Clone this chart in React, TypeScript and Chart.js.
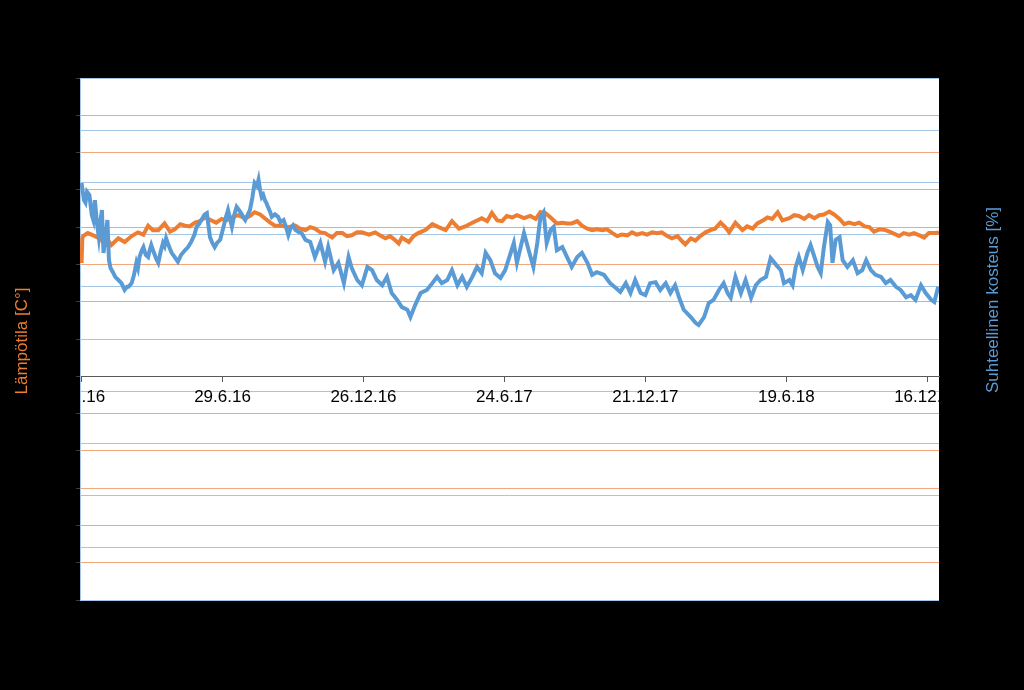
import React, { useEffect, useRef } from "react";
import { Chart, registerables } from "chart.js";

Chart.register(...registerables);

// X axis: days counted from 1.1.16
const tickDays = [0, 180, 360, 540, 720, 900, 1080];
const tickLabels = ["1.1.16", "29.6.16", "26.12.16", "24.6.17", "21.12.17", "19.6.18", "16.12.18"];
const dayMin = -2;
const dayMax = 1095;

const leftTitle = "Lämpötila [C°]";
const rightTitle = "Suhteellinen kosteus [%]";

// Temperature [°C]: [day, value]
const temperature: [number, number][] = [
  [0, 15.2], [1, 18.5], [2, 18.8], [8, 19.2], [15, 18.9], [21, 18.6], [28, 18.0], [34, 18.2], [38, 17.6], [47, 18.5],
  [55, 18.0], [64, 18.8], [72, 19.3], [79, 19.0], [85, 20.2], [91, 19.6], [98, 19.6], [106, 20.5], [113, 19.4], [119, 19.7],
  [126, 20.4], [132, 20.2], [138, 20.1], [145, 20.6], [151, 20.8], [158, 21.3], [166, 20.9], [172, 20.6], [179, 21.1], [185, 20.9],
  [192, 21.3], [200, 21.6], [209, 21.2], [215, 21.5], [221, 22.0], [228, 21.7], [234, 21.2], [241, 20.6], [247, 20.2], [255, 20.2],
  [264, 20.0], [273, 20.2], [279, 19.8], [286, 19.6], [292, 20.0], [298, 19.8], [305, 19.3], [311, 19.2], [320, 18.6], [326, 19.2],
  [333, 19.2], [339, 18.8], [345, 18.9], [352, 19.3], [358, 19.3], [367, 19.0], [375, 19.3], [381, 18.9], [388, 18.5], [394, 18.8],
  [401, 18.2], [405, 17.8], [409, 18.6], [418, 18.0], [424, 18.8], [430, 19.2], [439, 19.6], [448, 20.4], [456, 20.0], [465, 19.6],
  [473, 20.8], [482, 19.8], [490, 20.1], [499, 20.6], [505, 20.9], [511, 21.2], [518, 20.8], [524, 21.9], [531, 20.9], [537, 20.8],
  [543, 21.5], [550, 21.3], [556, 21.6], [565, 21.2], [573, 21.5], [580, 21.1], [586, 22.0], [592, 21.9], [599, 21.3], [607, 20.5],
  [614, 20.6], [620, 20.5], [626, 20.5], [633, 20.8], [639, 20.2], [646, 19.8], [652, 19.6], [658, 19.7], [665, 19.6], [671, 19.7],
  [678, 19.2], [684, 18.8], [690, 19.0], [697, 18.9], [703, 19.3], [709, 19.0], [716, 19.2], [722, 19.0], [729, 19.3], [735, 19.2],
  [741, 19.3], [748, 18.8], [754, 18.5], [761, 18.8], [767, 18.1], [771, 17.7], [778, 18.5], [784, 18.2], [790, 18.8], [797, 19.3],
  [803, 19.6], [809, 19.8], [816, 20.6], [822, 20.0], [827, 19.3], [835, 20.6], [844, 19.6], [850, 20.1], [857, 19.8], [863, 20.5],
  [870, 20.9], [876, 21.3], [882, 21.1], [889, 22.0], [895, 20.9], [904, 21.2], [910, 21.6], [916, 21.5], [923, 21.1], [929, 21.6],
  [936, 21.2], [942, 21.6], [948, 21.7], [955, 22.1], [961, 21.7], [968, 21.1], [974, 20.4], [980, 20.6], [987, 20.4], [993, 20.6],
  [1000, 20.1], [1006, 20.0], [1012, 19.4], [1019, 19.7], [1027, 19.6], [1036, 19.2], [1044, 18.8], [1050, 19.2], [1057, 19.0], [1063, 19.2],
  [1070, 18.9], [1076, 18.6], [1082, 19.2], [1089, 19.2], [1095, 19.3],
];

// Relative humidity [%]: [day, value]
const humidity: [number, number][] = [
  [0, 79.9], [3, 76.6], [5, 76.1], [7, 78.2], [10, 77.6], [13, 73.8], [15, 72.8], [17, 76.6], [20, 71.8], [22, 69.5],
  [24, 72.4], [26, 74.7], [28, 66.5], [31, 69.9], [33, 72.8], [35, 65.1], [37, 63.6], [40, 62.8], [43, 61.9], [47, 61.3],
  [51, 60.7], [55, 59.4], [58, 60.0], [60, 60.0], [64, 60.7], [67, 62.3], [70, 64.6], [72, 63.6], [74, 65.7], [77, 67.0],
  [79, 67.6], [82, 66.1], [85, 65.7], [87, 67.0], [89, 68.0], [92, 66.7], [95, 65.5], [98, 64.6], [101, 66.7], [104, 68.4],
  [106, 67.8], [108, 69.3], [111, 68.0], [115, 66.5], [119, 65.7], [123, 64.8], [127, 66.1], [132, 67.0], [136, 67.6], [140, 68.6],
  [144, 69.9], [147, 71.5], [150, 72.0], [153, 72.8], [157, 73.8], [160, 74.1], [162, 71.8], [164, 69.5], [167, 68.4], [170, 67.6],
  [173, 68.4], [177, 69.0], [181, 71.3], [184, 73.2], [187, 74.7], [190, 72.8], [192, 71.5], [195, 73.8], [198, 75.3], [201, 74.7],
  [204, 74.1], [207, 73.2], [209, 72.8], [212, 73.8], [215, 74.7], [218, 77.0], [221, 79.9], [224, 79.3], [226, 80.5], [228, 78.5],
  [230, 77.2], [232, 77.6], [234, 76.6], [236, 76.1], [238, 75.3], [241, 74.3], [243, 73.4], [247, 73.9], [251, 73.4], [254, 72.4],
  [258, 72.8], [261, 71.5], [264, 69.9], [267, 71.3], [270, 71.8], [273, 70.9], [277, 70.5], [281, 70.3], [286, 69.0], [292, 68.6],
  [298, 65.7], [305, 68.4], [311, 64.8], [315, 67.6], [322, 63.2], [328, 64.6], [335, 60.7], [341, 65.7], [345, 63.6], [352, 61.3],
  [358, 60.3], [365, 63.8], [371, 63.2], [377, 61.3], [384, 60.3], [390, 61.9], [396, 58.8], [403, 57.5], [409, 56.1], [416, 55.6],
  [420, 54.2], [426, 56.5], [433, 58.8], [441, 59.4], [448, 60.7], [454, 61.9], [460, 60.7], [467, 61.3], [473, 63.2], [480, 60.3],
  [486, 61.9], [492, 60.0], [499, 61.9], [505, 63.8], [511, 62.6], [516, 66.5], [522, 65.1], [528, 62.6], [535, 61.7], [541, 63.2],
  [548, 66.5], [552, 68.4], [556, 64.6], [565, 70.3], [571, 67.0], [577, 63.8], [582, 68.4], [586, 73.4], [590, 74.3], [594, 68.4],
  [599, 70.9], [603, 71.5], [607, 67.0], [614, 67.6], [620, 65.7], [626, 63.8], [633, 65.7], [639, 66.5], [646, 64.6], [652, 62.3],
  [658, 62.8], [667, 62.3], [675, 60.7], [682, 59.8], [688, 59.0], [695, 60.7], [701, 58.8], [707, 61.3], [714, 58.8], [720, 58.4],
  [726, 60.7], [733, 60.9], [739, 59.4], [746, 60.7], [752, 58.8], [758, 60.3], [763, 58.0], [769, 55.6], [778, 54.2], [784, 53.1],
  [788, 52.7], [795, 54.2], [801, 56.9], [807, 57.5], [814, 59.4], [820, 60.7], [825, 58.8], [829, 57.9], [835, 61.9], [842, 58.8],
  [848, 61.3], [855, 57.9], [861, 60.3], [867, 61.3], [874, 61.9], [880, 65.5], [887, 64.2], [893, 63.2], [897, 60.7], [904, 61.3],
  [908, 60.3], [912, 63.8], [916, 65.7], [921, 63.2], [927, 66.5], [931, 68.0], [936, 65.7], [940, 63.8], [944, 62.6], [948, 67.6],
  [953, 72.4], [956, 71.8], [959, 64.6], [963, 69.0], [968, 69.5], [972, 65.1], [978, 63.8], [985, 65.1], [991, 62.6], [997, 63.2],
  [1002, 65.1], [1008, 63.2], [1014, 62.3], [1021, 61.9], [1027, 60.7], [1033, 61.3], [1040, 60.0], [1046, 59.4], [1053, 58.0], [1059, 58.4],
  [1065, 57.5], [1072, 60.3], [1078, 58.8], [1085, 57.5], [1089, 57.1], [1094, 60.0],
];

const tempAxis = { min: -30, max: 40, step: 5 };
const humAxis = { min: 0, max: 100, step: 10 };

const FONT = "'Liberation Sans', Arial, sans-serif";
const ORANGE = "#ED7D31";
const BLUE = "#5B9BD5";

const framePlugin = {
  id: "frame",
  beforeDraw(chart: any) {
    const { ctx, chartArea: a } = chart;
    ctx.save();
    ctx.fillStyle = "#000";
    ctx.fillRect(0, 0, chart.width, chart.height);
    ctx.fillStyle = "#fff";
    ctx.fillRect(a.left, a.top, a.right - a.left, a.bottom - a.top);
    ctx.restore();
  },
  afterDraw(chart: any) {
    const { ctx, chartArea: a } = chart;
    ctx.save();
    ctx.font = `17px ${FONT}`;
    ctx.textAlign = "center";
    ctx.textBaseline = "middle";
    ctx.fillStyle = ORANGE;
    ctx.translate(22, (a.top + a.bottom) / 2 + 2);
    ctx.rotate(-Math.PI / 2);
    ctx.fillText(leftTitle, 0, 0);
    ctx.restore();
    ctx.save();
    ctx.font = `17px ${FONT}`;
    ctx.textAlign = "center";
    ctx.textBaseline = "middle";
    ctx.fillStyle = BLUE;
    ctx.translate(993, 300);
    ctx.rotate(-Math.PI / 2);
    ctx.fillText(rightTitle, 0, 0);
    ctx.restore();
  },
};

export default function App() {
  const ref = useRef<HTMLCanvasElement | null>(null);
  useEffect(() => {
    if (!ref.current) return;
    const chart = new Chart(ref.current, {
      type: "line",
      data: {
        datasets: [
          {
            label: "Suhteellinen kosteus [%]",
            data: humidity.map(([x, y]) => ({ x, y })),
            yAxisID: "y1",
            borderColor: BLUE,
            borderWidth: 4,
            pointRadius: 0,
            tension: 0,
          },
          {
            label: "Lämpötila [C°]",
            data: temperature.map(([x, y]) => ({ x, y })),
            yAxisID: "y",
            borderColor: ORANGE,
            borderWidth: 4,
            pointRadius: 0,
            tension: 0,
          },
        ],
      },
      options: {
        animation: false,
        responsive: true,
        maintainAspectRatio: false,
        layout: { padding: { top: 78, bottom: 90, left: 0, right: 0 } },
        plugins: { legend: { display: false }, tooltip: { enabled: false } },
        scales: {
          x: {
            type: "linear",
            position: { y: 0 } as any,
            min: dayMin,
            max: dayMax,
            afterBuildTicks: (axis: any) => {
              axis.ticks = tickDays.map((v) => ({ value: v }));
            },
            ticks: {
              autoSkip: false,
              maxRotation: 0,
              minRotation: 0,
              color: "#000",
              padding: 6,
              font: { family: FONT, size: 17 },
              callback: (v: any) => {
                const i = tickDays.indexOf(Number(v));
                return i >= 0 ? tickLabels[i] : "";
              },
            },
            grid: { drawOnChartArea: false, drawTicks: true, tickLength: 5, color: "#595959" },
            border: { color: "#595959", width: 1 },
          },
          y: {
            type: "linear",
            position: "left",
            min: tempAxis.min,
            max: tempAxis.max,
            ticks: { stepSize: tempAxis.step, color: "#000", font: { family: FONT, size: 14 } },
            grid: { color: "#F3A77A", tickLength: 4, tickColor: "#3c3c3c" },
            border: { color: "#A7C8E8" },
            afterFit: (s: any) => {
              s.width = 80;
            },
          },
          y1: {
            type: "linear",
            position: "right",
            min: humAxis.min,
            max: humAxis.max,
            ticks: { stepSize: humAxis.step, color: "#000", font: { family: FONT, size: 14 } },
            grid: { color: "#A3C6E6", drawTicks: false },
            border: { display: false },
            afterFit: (s: any) => {
              s.width = 85;
            },
          },
        },
      },
      plugins: [framePlugin],
    });
    return () => chart.destroy();
  }, []);
  return (
    <div style={{ position: "fixed", left: 0, top: 0, width: 1024, height: 690, background: "#000" }}>
      <canvas ref={ref} />
    </div>
  );
}
